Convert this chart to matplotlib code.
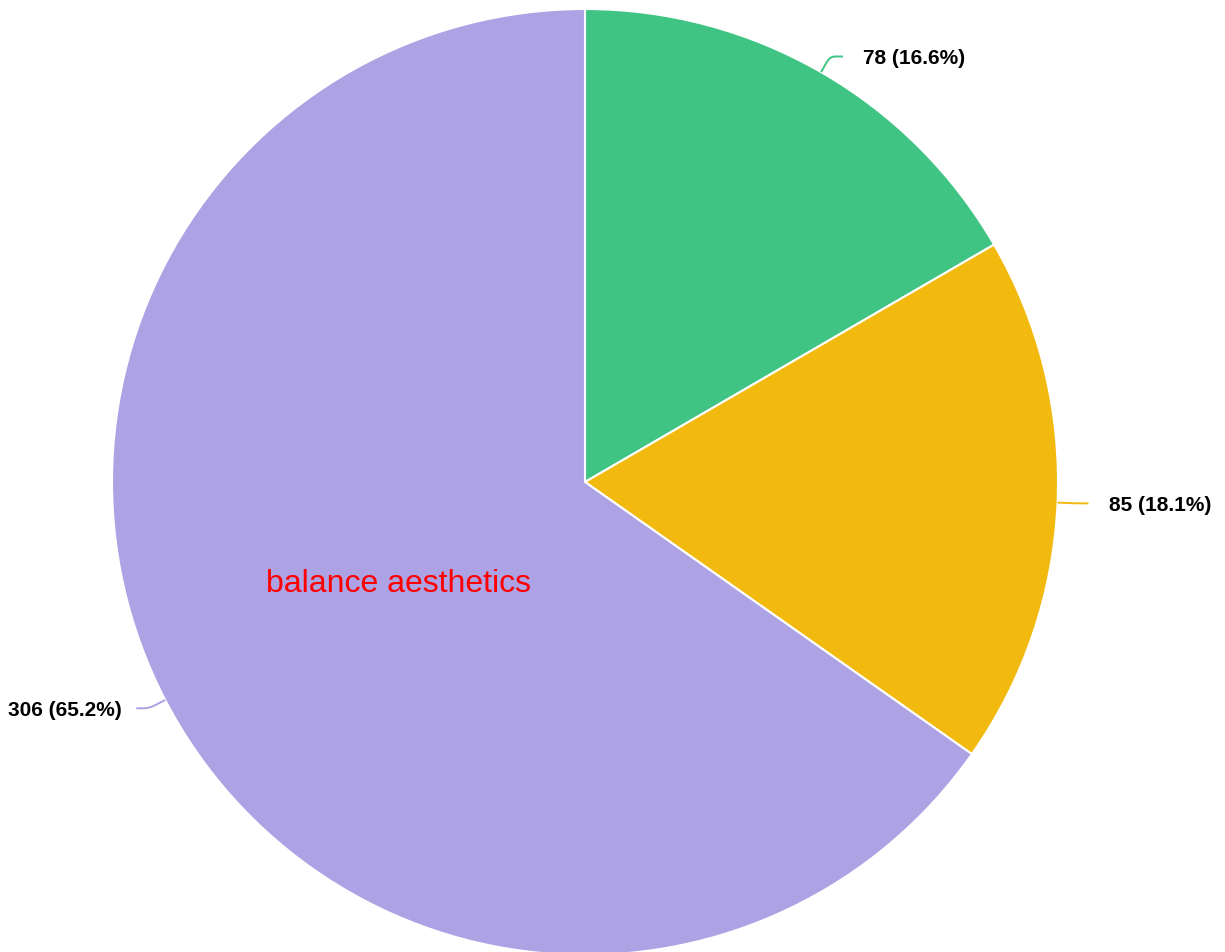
import numpy as np
import matplotlib
matplotlib.use("Agg")
import matplotlib.pyplot as plt
from matplotlib.path import Path
from matplotlib.patches import PathPatch

values = [78, 85, 306]
colors = ["#40C484", "#F2BA0F", "#ACA2E4"]
labels = [f"{v} ({v / sum(values) * 100:.1f}%)" for v in values]
center_text = "balance aesthetics"

W, H = 1225, 952
fig = plt.figure(figsize=(W / 100, H / 100), dpi=100)
ax = fig.add_axes([0, 0, 1, 1])
cx, cy, R = 585, H - 482, 473

wedges, _ = ax.pie(values, colors=colors, startangle=90, counterclock=False,
                   radius=R, center=(cx, cy),
                   wedgeprops=dict(edgecolor="white", linewidth=1.5))
ax.set_xlim(0, W)
ax.set_ylim(0, H)
ax.set_aspect("equal")
ax.axis("off")

for w, lab, col in zip(wedges, labels, colors):
    mid = np.deg2rad((w.theta1 + w.theta2) / 2)
    c, s = np.cos(mid), np.sin(mid)
    p0 = (cx + R * c, cy + R * s)
    el = (cx + (R + 18) * c, cy + (R + 18) * s)
    sgn = 1 if c >= 0 else -1
    pa = (p0[0] + 0.65 * (el[0] - p0[0]), p0[1] + 0.65 * (el[1] - p0[1]))
    pb = (el[0] + sgn * 5, el[1])
    pe = (el[0] + sgn * 13, el[1])
    path = Path([p0, pa, el, pb, pe],
                [Path.MOVETO, Path.LINETO, Path.CURVE3, Path.CURVE3, Path.LINETO])
    ax.add_patch(PathPatch(path, fill=False, edgecolor=col, linewidth=1.4))
    gap = 20 if sgn > 0 else 14
    ax.text(pe[0] + sgn * gap, pe[1] - 2, lab, ha="left" if sgn > 0 else "right",
            va="center", fontsize=15, fontweight="bold",
            family="Liberation Sans", color="black")

ax.text(398, H - 584, center_text, ha="center", va="center", fontsize=23,
        family="Liberation Sans", color="red")

fig.savefig("out.png", dpi=100)
